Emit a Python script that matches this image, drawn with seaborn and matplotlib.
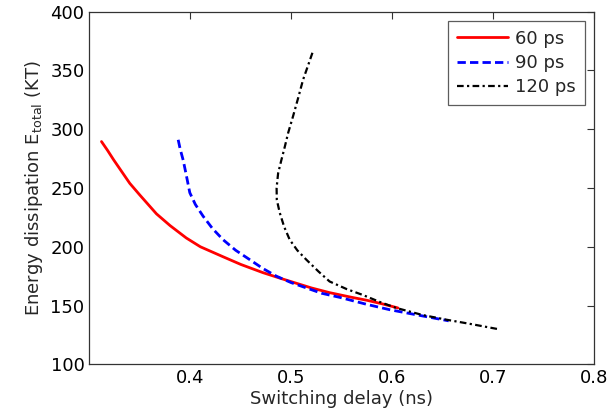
import numpy as np
import pandas as pd
import seaborn as sns
from matplotlib import pyplot as plt

# values
delay_60 = [0.312, 0.318, 0.324, 0.330, 0.340, 0.350, 0.3665, 0.380, 0.396, 0.410, 0.4325,
            0.450, 0.472, 0.490, 0.505, 0.520, 0.538, 0.560, 0.575, 0.590, 0.6057]
energy_60 = [289.5, 282.0, 274.0, 266.5, 254.0, 244.0, 228.0, 218.0, 207.5, 200.0, 191.5,
             185.0, 178.0, 173.0, 169.0, 165.0, 161.0, 157.0, 154.5, 151.5, 148.0]

delay_90 = [0.388, 0.390, 0.393, 0.396, 0.3995, 0.405, 0.4127, 0.422, 0.4325, 0.445, 0.459,
            0.472, 0.4853, 0.500, 0.515, 0.530, 0.548, 0.575, 0.5975, 0.625, 0.650, 0.656]
energy_90 = [291.0, 283.0, 273.5, 261.0, 246.0, 236.0, 226.0, 215.5, 206.0, 197.0, 189.0,
             181.5, 175.0, 169.5, 165.0, 160.5, 157.0, 151.0, 146.5, 142.0, 138.0, 137.0]

delay_120 = [0.521, 0.517, 0.5117, 0.507, 0.5018, 0.497, 0.4936, 0.490, 0.487, 0.4855, 0.4857,
             0.4886, 0.493, 0.4985, 0.506, 0.515, 0.527, 0.538, 0.555, 0.571, 0.588, 0.604,
             0.630, 0.6537, 0.680, 0.7048]
energy_120 = [365.0, 355.0, 342.0, 327.0, 311.0, 297.0, 285.0, 273.0, 262.5, 250.0, 240.0,
              229.0, 217.0, 206.0, 197.0, 189.0, 179.0, 170.5, 164.0, 159.0, 153.0, 148.0,
              142.0, 138.0, 134.0, 130.0]

labels = ['60 ps', '90 ps', '120 ps']

df = pd.concat([
    pd.DataFrame({'delay': delay_60, 'energy': energy_60, 'pulse': labels[0]}),
    pd.DataFrame({'delay': delay_90, 'energy': energy_90, 'pulse': labels[1]}),
    pd.DataFrame({'delay': delay_120, 'energy': energy_120, 'pulse': labels[2]}),
], ignore_index=True)

sns.set_style('white')
plt.rcParams['font.family'] = ['DejaVu Sans']
plt.rcParams['font.size'] = 13

fig, ax = plt.subplots(figsize=(6.08, 4.15), dpi=100)
fig.subplots_adjust(left=0.147, right=0.977, bottom=0.122, top=0.972)

sns.lineplot(data=df, x='delay', y='energy', hue='pulse', style='pulse',
             sort=False, estimator=None, ax=ax,
             palette={'60 ps': '#ff0000', '90 ps': '#0000ff', '120 ps': '#000000'},
             dashes={'60 ps': '', '90 ps': (3, 1.5), '120 ps': (3, 1.5, 1, 1.5)})

widths = [2.0, 2.0, 1.6]
for line, lw in zip(ax.get_lines()[:3], widths):
    line.set_linewidth(lw)

ax.set_xlim(0.3, 0.8)
ax.set_ylim(100, 400)
ax.set_xticks([0.4, 0.5, 0.6, 0.7, 0.8])
ax.set_yticks(np.arange(100, 401, 50))
ax.tick_params(direction='in', top=True, right=True, length=5, width=0.8,
               colors='#333333', labelcolor='black', labelsize=13)
for sp in ax.spines.values():
    sp.set_color('#333333')
    sp.set_linewidth(0.9)

ax.set_xlabel('Switching delay (ns)', fontsize=13, labelpad=2)
ax.set_ylabel(r'Energy dissipation E$_{\mathregular{total}}$ (KT)', fontsize=13, labelpad=4)

handles, _ = ax.get_legend_handles_labels()
for h, lw in zip(handles, widths):
    h.set_linewidth(lw)
leg = ax.legend(handles, labels, loc='upper right', fontsize=13, frameon=True,
                fancybox=False, edgecolor='#333333', handlelength=2.8,
                borderaxespad=0.5, borderpad=0.5, labelspacing=0.35, handletextpad=0.4)
leg.get_frame().set_linewidth(0.9)

plt.savefig('out.png', dpi=100)
